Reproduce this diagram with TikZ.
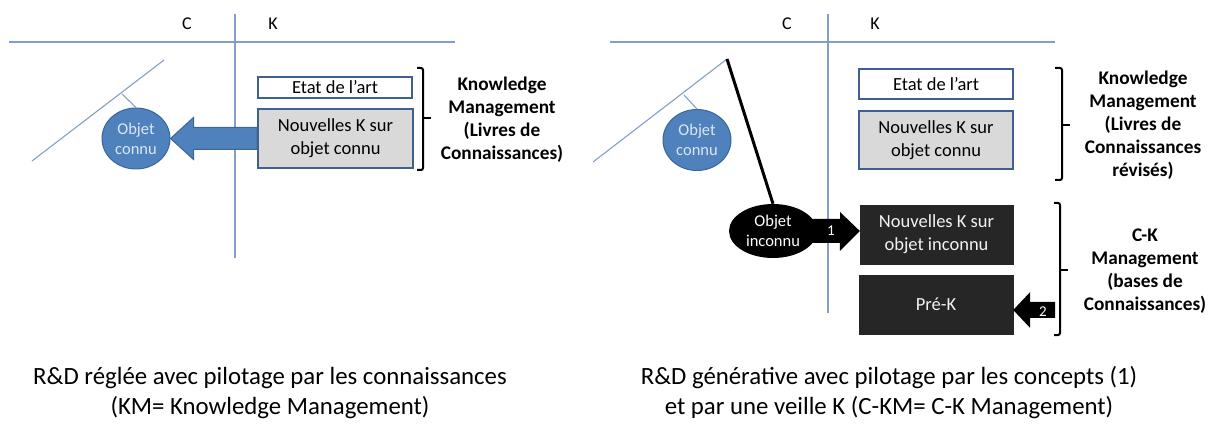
\documentclass[tikz,border=0pt]{standalone}
\usepackage{fontspec}
\setmainfont{Carlito}
\usetikzlibrary{calc,shapes.geometric,backgrounds}
\definecolor{axisc}{HTML}{849EC9}
\definecolor{ellfill}{HTML}{4F81BD}
\definecolor{elldraw}{HTML}{3C6698}
\definecolor{elltext}{HTML}{DCE6F2}
\definecolor{boxdraw}{HTML}{3F6192}
\definecolor{grayfill}{HTML}{D9D9D9}
\definecolor{darkbox}{HTML}{262626}
\tikzset{
  axisline/.style={draw=axisc, line width=1.2pt},
  branch/.style={draw=axisc, line width=1.1pt},
  axislabel/.style={font=\fontsize{18}{21}\selectfont, inner sep=0pt},
  knownobj/.style={ellipse, fill=ellfill, draw=elldraw, line width=1pt,
    minimum width=68pt, minimum height=61pt, inner sep=0pt, text=elltext,
    font=\fontsize{16.5}{20}\selectfont, align=center},
  unknownobj/.style={ellipse, fill=black, minimum width=88pt, minimum height=54pt,
    inner sep=0pt, text=white, font=\fontsize{16.5}{20}\selectfont, align=center},
  kbox/.style={rectangle, draw=boxdraw, line width=2pt, inner sep=0pt,
    font=\fontsize{18.5}{23}\selectfont, align=center},
  darkk/.style={rectangle, fill=darkbox, draw=darkbox, inner sep=0pt,
    text=white!95!black, font=\fontsize{18.5}{23}\selectfont, align=center},
  bluearrow/.style={fill=ellfill, draw=elldraw, line width=1pt, line join=miter},
  blackarrow/.style={fill=black},
  arrowlabel/.style={text=white, font=\fontsize{15}{18}\selectfont, inner sep=0pt},
  bracket/.style={draw=black, line width=2pt, rounded corners=2pt},
  mgmttext/.style={font=\bfseries\fontsize{19.3}{23}\selectfont, align=center, inner sep=0pt},
  caption/.style={font=\fontsize{24.8}{30}\selectfont, align=center, inner sep=0pt},
  treeline/.style={draw=black, line width=3pt}
}
\begin{document}
\begin{tikzpicture}[x=1pt,y=-1pt]
\useasboundingbox (0,0) rectangle (1209,427);

\begin{scope}[on background layer]
\draw[axisline] (9,42) -- (455,42);
\draw[axisline] (235,14) -- (235,258);
\draw[axisline] (610,42) -- (1055,42);
\draw[axisline] (828,14) -- (828,313);
\end{scope}

% ================= LEFT PANEL =================
\node[axislabel] (lC) at (187,24) {C};
\node[axislabel] (lK) at (273,24) {K};

\coordinate (ldiagA) at (32,161);
\coordinate (ldiagB) at (164,60);
\coordinate (ldiagM) at (122,94);
\draw[branch] (ldiagA) -- (ldiagB);

\node[knownobj] (loc) at (136,138.5) {Objet\\connu};
\draw[branch] (ldiagM) -- (loc.north);

\node[kbox, fill=white, minimum width=154pt, minimum height=21pt] (letat) at (335,87.5) {Etat de l'art};
\node[kbox, fill=grayfill, minimum width=155pt, minimum height=59pt] (lnk) at (335.5,138.5) {Nouvelles K sur\\objet connu};

\draw[bluearrow] (loc.east) -- ++(23,-21) -- ++(0,10) -- ([yshift=11pt]lnk.west)
  -- ([yshift=-11pt]lnk.west) -- ($(loc.east)+(23,11)$) -- ++(0,10) -- cycle;

\draw[bracket] (417,68) -- (423,68) -- (423,170) -- (417,170);
\draw[bracket] (423,118) -- (431,118);
\node[mgmttext] (lkm) at (502,119.5) {Knowledge\\Management\\(Livres de\\Connaissances)};

\node[caption] (lcap) at (270,393) {R\&D réglée avec pilotage par les connaissances\\(KM= Knowledge Management)};

% ================= RIGHT PANEL =================
\node[axislabel] (rC) at (787,24) {C};
\node[axislabel] (rK) at (875,24) {K};

\coordinate (rdiagA) at (593,162);
\coordinate (rdiagB) at (727,59);
\coordinate (rdiagM) at (684,95);
\draw[branch] (rdiagA) -- (rdiagB);

\node[knownobj] (roc) at (697,140) {Objet\\connu};
\draw[branch] (rdiagM) -- (roc.north);

\node[unknownobj] (roi) at (773,231) {Objet\\inconnu};
\draw[treeline] (rdiagB) -- (roi.north);

\node[kbox, fill=white, minimum width=154pt, minimum height=30pt] (retat) at (936,84) {Etat de l'art};
\node[kbox, fill=grayfill, minimum width=154pt, minimum height=58pt] (rnk) at (936,140.5) {Nouvelles K sur\\objet connu};
\node[darkk, minimum width=153pt, minimum height=59pt] (rnki) at (936.5,234.5) {Nouvelles K sur\\objet inconnu};
\node[darkk, minimum width=154pt, minimum height=59pt] (rprek) at (936,304.5) {Pré-K};

% arrow 1 (behind the ellipse)
\begin{scope}[on background layer]
\fill[blackarrow] (roi.center) ++(20,-12) -- ++(47,0) -- ++(0,-7) -- (rnki.west |- roi.east)
  -- ($(rnki.west |- roi.east)+(-20,20)$) -- ++(0,-8) -- ++(-47,0) -- cycle;
\end{scope}
\node[arrowlabel] (lab1) at (831,231) {1};

% arrow 2
\coordinate (a2tail) at (1055,310);
\fill[blackarrow] ([yshift=-5.5pt]rprek.east) -- ++(17,-18) -- ++(0,10) -- ($(a2tail)+(0,-8)$)
  -- ($(a2tail)+(0,8)$) -- ($([yshift=-5.5pt]rprek.east)+(17,8)$) -- ++(0,10) -- cycle;
\node[arrowlabel] (lab2) at (1043,312) {2};

\draw[bracket] (1055,68) -- (1062,68) -- (1062,180) -- (1055,180);
\draw[bracket] (1062,125) -- (1070,125);
\node[mgmttext] (rkm) at (1143,125.5) {Knowledge\\Management\\(Livres de\\Connaissances\\révisés)};

\draw[bracket] (1054,203) -- (1060,203) -- (1060,335) -- (1054,335);
\draw[bracket] (1060,270) -- (1068,270);
\node[mgmttext] (rckm) at (1145,271) {C-K\\Management\\(bases de\\Connaissances)};

\node[caption] (rcap) at (889,393) {R\&D générative avec pilotage par les concepts (1)\\et par une veille K (C-KM= C-K Management)};
\end{tikzpicture}
\end{document}
